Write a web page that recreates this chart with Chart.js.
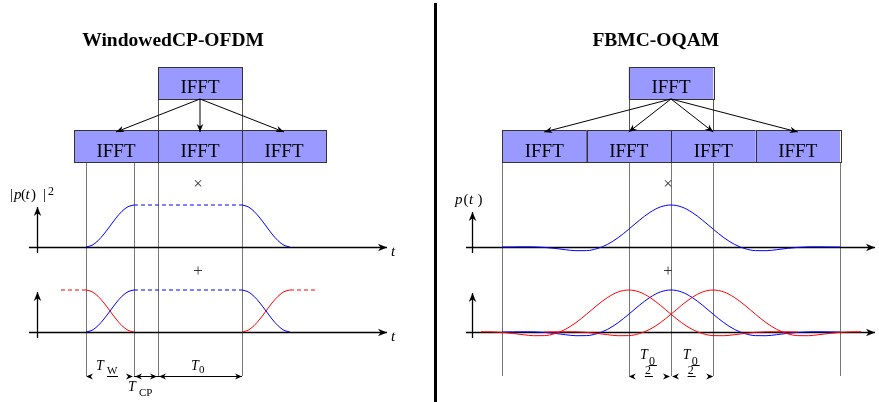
<!DOCTYPE html>
<html><head><meta charset="utf-8">
<script src="https://cdn.jsdelivr.net/npm/chart.js@4.4.1/dist/chart.umd.min.js"></script>
<style>html,body{margin:0;padding:0;background:#fff;overflow:hidden}canvas{display:block}</style>
</head><body>
<canvas id="c" width="879" height="402"></canvas>
<script>
// ================= DATA =================
const panelTitles = ['WindowedCP-OFDM', 'FBMC-OQAM'];
const blockLabel = 'IFFT';

// --- Windowed CP-OFDM (time in units of T0, useful symbol starts at 0) ---
const cpBlockStarts = [-1, 0, 1];
const cpTopBlockStart = 0;
const cpGuideTimes = [-0.857, -0.286, 0, 1];
const tRise = [-0.857, -0.786, -0.714, -0.643, -0.571, -0.5, -0.429, -0.357, -0.286];
const wRise = [0, 0.04, 0.15, 0.31, 0.5, 0.69, 0.85, 0.96, 1];
const tFall = [1, 1.071, 1.143, 1.214, 1.286, 1.357, 1.429, 1.5, 1.571];
const wFall = [1, 0.96, 0.85, 0.69, 0.5, 0.31, 0.15, 0.04, 0];
const tPlateau = [-0.286, 1];
const wPlateau = [1, 1];
const tPrevTail = [-1.155, -0.857];
const tNextHead = [1.571, 1.869];
const wFlat = [1, 1];

// --- FBMC-OQAM (time in units of T0, centre at 0) ---
const fbBlockStarts = [-2, -1, 0, 1];
const fbTopBlockStart = -0.5;
const fbGuideTimes = [-2, -0.5, 0, 0.5, 2];
const tProto = [-2, -1.875, -1.75, -1.625, -1.5, -1.375, -1.25, -1.125, -1, -0.875, -0.75, -0.625, -0.5, -0.375, -0.25, -0.125, 0,
                0.125, 0.25, 0.375, 0.5, 0.625, 0.75, 0.875, 1, 1.125, 1.25, 1.375, 1.5, 1.625, 1.75, 1.875, 2];
const pProto = [0, 0.002, 0.005, 0.003, -0.009, -0.033, -0.064, -0.088, -0.086, -0.039, 0.064, 0.223, 0.423, 0.635, 0.823, 0.954, 1,
                0.954, 0.823, 0.635, 0.423, 0.223, 0.064, -0.039, -0.086, -0.088, -0.064, -0.033, -0.009, 0.003, 0.005, 0.002, 0];
const tPrev = [-2.25, -2.125, -2, -1.875, -1.75, -1.625, -1.5, -1.375, -1.25, -1.125, -1, -0.875, -0.75, -0.625, -0.5, -0.375, -0.25,
               -0.125, 0, 0.125, 0.25, 0.375, 0.5, 0.625, 0.75, 0.875, 1, 1.125, 1.25, 1.375, 1.5];
const pPrev = [0.005, 0.003, -0.009, -0.033, -0.064, -0.088, -0.086, -0.039, 0.064, 0.223, 0.423, 0.635, 0.823, 0.954, 1, 0.954, 0.823,
               0.635, 0.423, 0.223, 0.064, -0.039, -0.086, -0.088, -0.064, -0.033, -0.009, 0.003, 0.005, 0.002, 0];
const tNext = [-1.5, -1.375, -1.25, -1.125, -1, -0.875, -0.75, -0.625, -0.5, -0.375, -0.25, -0.125, 0, 0.125, 0.25, 0.375, 0.5,
               0.625, 0.75, 0.875, 1, 1.125, 1.25, 1.375, 1.5, 1.625, 1.75, 1.875, 2, 2.125, 2.25];
const pNext = [0, 0.002, 0.005, 0.003, -0.009, -0.033, -0.064, -0.088, -0.086, -0.039, 0.064, 0.223, 0.423, 0.635, 0.823, 0.954, 1,
               0.954, 0.823, 0.635, 0.423, 0.223, 0.064, -0.039, -0.086, -0.088, -0.064, -0.033, -0.009, 0.003, 0.005];

// ================= LAYOUT (vertical units = amplitude units) =================
const BASE1 = 0, BASE2 = -2.024;
const ROW_BOT = 2.024, ROW_TOP = 2.786, TOP_BOT = 3.524, TOP_TOP = 4.286;
const GUIDE_BOT = -3.071;
const BLUE = '#0000ff', RED = '#ff0000';
const SERIF = '"Liberation Serif", "Times New Roman", serif';

function pts(ts, vs, base) { return ts.map((t, i) => ({ x: t, y: base + vs[i] })); }
function ds(axis, ts, vs, base, color, dashed) {
  return {
    xAxisID: axis, yAxisID: 'y', data: pts(ts, vs, base), showLine: true,
    borderColor: color, borderWidth: 1, pointRadius: 0, fill: false,
    borderDash: dashed ? [4, 3] : [], cubicInterpolationMode: 'monotone', clip: false
  };
}

const datasets = [
  // Windowed CP-OFDM, |p(t)|^2
  ds('xl', tRise, wRise, BASE1, BLUE, false),
  ds('xl', tPlateau, wPlateau, BASE1, BLUE, true),
  ds('xl', tFall, wFall, BASE1, BLUE, false),
  // Windowed CP-OFDM, overlapping windows
  ds('xl', tPrevTail, wFlat, BASE2, RED, true),
  ds('xl', tRise, wFall, BASE2, RED, false),
  ds('xl', tRise, wRise, BASE2, BLUE, false),
  ds('xl', tPlateau, wPlateau, BASE2, BLUE, true),
  ds('xl', tFall, wFall, BASE2, BLUE, false),
  ds('xl', tFall, wRise, BASE2, RED, false),
  ds('xl', tNextHead, wFlat, BASE2, RED, true),
  // FBMC-OQAM
  ds('xr', tProto, pProto, BASE1, BLUE, false),
  ds('xr', tPrev, pPrev, BASE2, RED, false),
  ds('xr', tNext, pNext, BASE2, RED, false),
  ds('xr', tProto, pProto, BASE2, BLUE, false),
];

// ================= DRAWING HELPERS =================
function head(ctx, x, y, ang, len, wid) {
  ctx.save();
  ctx.translate(x, y); ctx.rotate(ang);
  ctx.beginPath();
  ctx.moveTo(0, 0);
  ctx.lineTo(-len, -wid / 2);
  ctx.lineTo(-len * 0.7, 0);
  ctx.lineTo(-len, wid / 2);
  ctx.closePath();
  ctx.fillStyle = '#000'; ctx.fill();
  ctx.restore();
}
function arrow(ctx, x1, y1, x2, y2, lw, len, wid) {
  ctx.save();
  ctx.strokeStyle = '#000'; ctx.lineWidth = lw;
  ctx.beginPath(); ctx.moveTo(x1, y1); ctx.lineTo(x2, y2); ctx.stroke();
  ctx.restore();
  head(ctx, x2, y2, Math.atan2(y2 - y1, x2 - x1), len, wid);
}
function line(ctx, x1, y1, x2, y2, color, lw) {
  ctx.save(); ctx.strokeStyle = color; ctx.lineWidth = lw;
  ctx.beginPath(); ctx.moveTo(x1, y1); ctx.lineTo(x2, y2); ctx.stroke(); ctx.restore();
}
function text(ctx, s, x, y, font, align, color) {
  ctx.save(); ctx.font = font; ctx.fillStyle = color || '#000';
  ctx.textAlign = align || 'left'; ctx.textBaseline = 'alphabetic';
  ctx.fillText(s, x, y); ctx.restore();
}
function box(ctx, x1, y1, x2, y2) {
  ctx.save();
  ctx.fillStyle = '#9999ff'; ctx.fillRect(x1, y1, x2 - x1, y2 - y1);
  ctx.strokeStyle = '#333'; ctx.lineWidth = 1;
  ctx.strokeRect(Math.round(x1) + 0.5, Math.round(y1) + 0.5, Math.round(x2 - x1), Math.round(y2 - y1));
  ctx.restore();
}

const diagram = {
  id: 'diagram',
  beforeDraw(chart) {
    const ctx = chart.ctx;
    ctx.save(); ctx.fillStyle = '#fff'; ctx.fillRect(0, 0, chart.width, chart.height); ctx.restore();
  },
  beforeDatasetsDraw(chart) {
    const ctx = chart.ctx, Y = v => chart.scales.y.getPixelForValue(v);
    const panels = [
      { sx: chart.scales.xl, guides: cpGuideTimes, axis: [-1.536, 2.726], vx: -1.44, vtop: [0.952, 0.953], tlabel: true },
      { sx: chart.scales.xr, guides: fbGuideTimes, axis: [-2.426, 2.414], vx: -2.355, vtop: [0.833, 0.929], tlabel: false },
    ];
    panels.forEach(p => {
      const X = v => p.sx.getPixelForValue(v);
      p.guides.forEach(g => {
        const xx = Math.round(X(g)) + 0.5;
        line(ctx, xx, Y(ROW_BOT), xx, Y(GUIDE_BOT), '#777', 1);
      });
      [BASE1, BASE2].forEach((b, i) => {
        const yy = Math.round(Y(b)) + 0.5;
        arrow(ctx, X(p.axis[0]), yy, X(p.axis[1]), yy, 1.3, 9, 7.5);
        const vx = Math.round(X(p.vx)) + 0.5;
        arrow(ctx, vx, Y(b - 0.143), vx, Y(b + p.vtop[i]), 1.3, 9, 7.5);
        if (p.tlabel) text(ctx, 't', X(p.axis[1]) + 4, yy + 8, 'italic 15px ' + SERIF);
      });
    });
  },
  afterDatasetsDraw(chart) {
    const ctx = chart.ctx, Y = v => chart.scales.y.getPixelForValue(v);
    const XL = v => chart.scales.xl.getPixelForValue(v);
    const XR = v => chart.scales.xr.getPixelForValue(v);
    const fIFFT = '19px ' + SERIF;

    // ---- titles ----
    text(ctx, panelTitles[0], XL(0.18), Y(BASE1) - 201, 'bold 19.5px ' + SERIF, 'center');
    text(ctx, panelTitles[1], XR(-0.18), Y(BASE1) - 201, 'bold 19.5px ' + SERIF, 'center');

    // ---- left blocks ----
    const tl = XL(cpTopBlockStart), tr = XL(cpTopBlockStart + 1);
    line(ctx, Math.round(tl) + 0.5, Y(TOP_BOT), Math.round(tl) + 0.5, Y(ROW_TOP), '#555', 1);
    line(ctx, Math.round(tr) + 0.5, Y(TOP_BOT), Math.round(tr) + 0.5, Y(ROW_TOP), '#555', 1);
    box(ctx, tl, Y(TOP_TOP), tr, Y(TOP_BOT));
    text(ctx, blockLabel, (tl + tr) / 2, Y(TOP_BOT) - 6, fIFFT, 'center');
    cpBlockStarts.forEach(s => {
      box(ctx, XL(s), Y(ROW_TOP), XL(s + 1), Y(ROW_BOT));
      text(ctx, blockLabel, (XL(s) + XL(s + 1)) / 2, Y(ROW_BOT) - 5, fIFFT, 'center');
    });
    const ltx = (tl + tr) / 2;
    cpBlockStarts.forEach(s => arrow(ctx, ltx, Y(TOP_BOT), XL(s + 0.5), Y(ROW_TOP) + 2, 1, 8, 6.5));

    // ---- right blocks ----
    const rl = XR(fbTopBlockStart), rr = XR(fbTopBlockStart + 1);
    line(ctx, Math.round(rl) + 0.5, Y(TOP_BOT), Math.round(rl) + 0.5, Y(ROW_TOP), '#555', 1);
    line(ctx, Math.round(rr) + 0.5, Y(TOP_BOT), Math.round(rr) + 0.5, Y(ROW_TOP), '#555', 1);
    box(ctx, rl, Y(TOP_TOP), rr, Y(TOP_BOT));
    text(ctx, blockLabel, (rl + rr) / 2, Y(TOP_BOT) - 6, fIFFT, 'center');
    fbBlockStarts.forEach(s => {
      box(ctx, XR(s), Y(ROW_TOP), XR(s + 1), Y(ROW_BOT));
      text(ctx, blockLabel, (XR(s) + XR(s + 1)) / 2, Y(ROW_BOT) - 5, fIFFT, 'center');
    });
    const rtx = (rl + rr) / 2;
    fbBlockStarts.forEach(s => arrow(ctx, rtx, Y(TOP_BOT), XR(s + 0.5), Y(ROW_TOP) + 2, 1, 8, 6.5));

    // ---- operators ----
    ctx.save(); ctx.textBaseline = 'middle';
    [XL(0.476), XR(-0.036)].forEach(x => {
      ctx.font = '17px ' + SERIF; ctx.fillStyle = '#333'; ctx.textAlign = 'center';
      ctx.fillText('\u00d7', x, Y(BASE1) - 62);
      ctx.fillText('+', x, Y(BASE1) + 25);
    });
    ctx.restore();

    // ---- y labels ----
    const fi = 'italic 15px ' + SERIF, fr = '15px ' + SERIF;
    const ly = Y(BASE1) - 48;
    text(ctx, '|', 10, ly, fr); text(ctx, 'p', 14, ly, fi); text(ctx, '(', 21, ly, fr);
    text(ctx, 't', 25.5, ly, fi); text(ctx, ')', 31, ly, fr); text(ctx, '|', 43, ly, fr);
    text(ctx, '2', 48, ly - 4, '12px ' + SERIF);
    const ry = Y(BASE1) - 43;
    text(ctx, 'p', 455, ry, fi); text(ctx, '(', 463.5, ry, fr); text(ctx, 't', 469, ry, fi); text(ctx, ')', 477.5, ry, fr);

    // ---- dimension arrows (left) ----
    const fi2 = 'italic 14px ' + SERIF;
    const dy = Math.round(Y(GUIDE_BOT)) + 0.5;
    const a = XL(cpGuideTimes[0]), b = XL(cpGuideTimes[1]), c = XL(cpGuideTimes[2]), d = XL(cpGuideTimes[3]);
    head(ctx, a, dy, Math.PI, 7, 6); head(ctx, b - 1, dy, 0, 7, 6);
    line(ctx, b, dy, c, dy, '#000', 1); head(ctx, b + 1, dy, Math.PI, 7, 6); head(ctx, c - 1, dy, 0, 7, 6);
    line(ctx, c, dy, d, dy, '#000', 1); head(ctx, c + 1, dy, Math.PI, 7, 6); head(ctx, d, dy, 0, 7, 6);
    const mw = (a + b) / 2;
    text(ctx, 'T', mw - 14, dy - 7, fi2); text(ctx, 'W', mw - 3, dy - 3, '11px ' + SERIF);
    line(ctx, mw - 3, dy, mw + 8, dy, '#000', 1);
    const mc = (b + c) / 2;
    text(ctx, 'T', mc - 18, dy + 14, fi2); text(ctx, 'CP', mc - 7, dy + 19, '11px ' + SERIF);
    const m0 = (c + d) / 2;
    text(ctx, 'T', m0 - 9, dy - 7, fi2); text(ctx, '0', m0 - 1, dy - 4, '11px ' + SERIF);

    // ---- dimension arrows (right) ----
    const e = XR(fbGuideTimes[1]), f = XR(fbGuideTimes[2]), g = XR(fbGuideTimes[3]);
    [[e, f, -1], [f, g, 1]].forEach(([p1, p2, k]) => {
      head(ctx, p1 + (k > 0 ? 1 : 0), dy, Math.PI, 7, 6); head(ctx, p2 - (k < 0 ? 1 : 0), dy, 0, 7, 6);
      const m = (p1 + p2) / 2 + (k > 0 ? 0.5 : 0);
      text(ctx, 'T', m - 10, dy - 18, fi2);
      text(ctx, '0', m - 1, dy - 12, '12px ' + SERIF);
      line(ctx, m - 1, dy - 11, m + 7, dy - 11, '#000', 1);
      text(ctx, '2', m - 5, dy - 3, '12px ' + SERIF);
      line(ctx, m - 5, dy, m + 3, dy, '#000', 1);
    });

    // ---- divider ----
    ctx.save(); ctx.fillStyle = '#000'; ctx.fillRect(434, 3, 3, chart.height - 3); ctx.restore();
  }
};

new Chart(document.getElementById('c'), {
  type: 'scatter',
  data: { datasets },
  options: {
    responsive: false, animation: false, events: [],
    layout: { padding: 0 },
    plugins: { legend: { display: false }, tooltip: { enabled: false } },
    scales: {
      xl: { type: 'linear', display: false, min: -158 / 84, max: 721 / 84 },
      xr: { type: 'linear', display: false, min: -671 / 84.5, max: 208 / 84.5 },
      y: { type: 'linear', display: false, min: -155 / 42, max: 247 / 42 }
    }
  },
  plugins: [diagram]
});
</script>
</body></html>
